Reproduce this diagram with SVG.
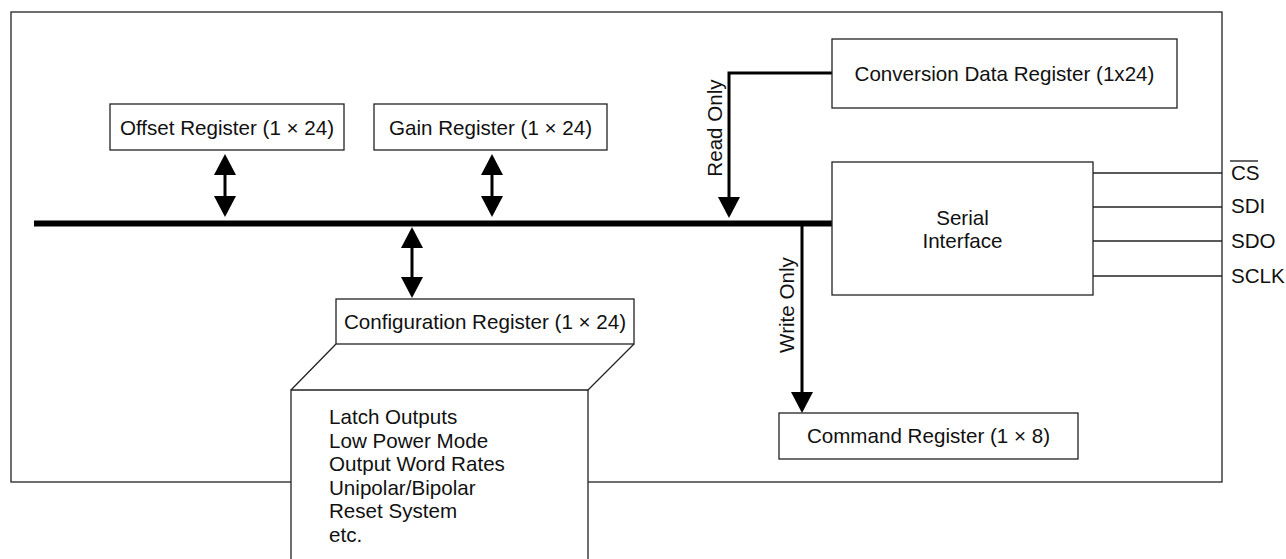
<svg xmlns="http://www.w3.org/2000/svg" width="1286" height="559" viewBox="0 0 1286 559">
<style>
.box{fill:#fff;stroke:#222;stroke-width:1.3}
.thin{fill:none;stroke:#222;stroke-width:1.3}
.conn{fill:none;stroke:#000;stroke-width:3}
.bus{fill:none;stroke:#000;stroke-width:6}
text{font-family:"Liberation Sans",Arial,Helvetica,sans-serif;font-size:20.6px;fill:#111}
.c{text-anchor:middle}
</style>
<defs>
<marker id="ah" viewBox="0 0 21 22" markerWidth="21" markerHeight="22" markerUnits="userSpaceOnUse" refX="17" refY="11" orient="auto-start-reverse">
<path d="M0,0 L21,11 L0,22 z" fill="#000"/>
</marker>
</defs>
<rect width="1286" height="559" fill="#fff"/>
<g id="chip">
<rect class="thin" x="11" y="12" width="1211" height="470"/>
</g>
<g id="connectors">
<line class="bus" x1="34" y1="223.5" x2="832" y2="223.5"/>
<line class="conn" x1="225" y1="158" x2="225" y2="213" marker-start="url(#ah)" marker-end="url(#ah)"/>
<line class="conn" x1="492" y1="158" x2="492" y2="213" marker-start="url(#ah)" marker-end="url(#ah)"/>
<line class="conn" x1="412" y1="231" x2="412" y2="294" marker-start="url(#ah)" marker-end="url(#ah)"/>
<path class="conn" d="M832,73 H729 V214" marker-end="url(#ah)"/>
<path class="conn" d="M802,224 V409" marker-end="url(#ah)"/>
<text transform="translate(722,128) rotate(-90)" class="c">Read Only</text>
<text transform="translate(793.5,305) rotate(-90)" class="c">Write Only</text>
<line class="thin" x1="1093" y1="173" x2="1222" y2="173"/>
<line class="thin" x1="1093" y1="207" x2="1222" y2="207"/>
<line class="thin" x1="1093" y1="241" x2="1222" y2="241"/>
<line class="thin" x1="1093" y1="276" x2="1222" y2="276"/>
</g>
<g id="offset">
<rect class="box" x="110" y="104" width="234" height="46"/>
<text x="227" y="135" class="c">Offset Register (1 × 24)</text>
</g>
<g id="gain">
<rect class="box" x="374" y="104" width="233" height="46"/>
<text x="490.5" y="135" class="c">Gain Register (1 × 24)</text>
</g>
<g id="conversion">
<rect class="box" x="832" y="39" width="345" height="69"/>
<text x="1004.5" y="81" class="c">Conversion Data Register (1x24)</text>
</g>
<g id="serial">
<rect class="box" x="832" y="162" width="261" height="133"/>
<text x="962.5" y="225" class="c">Serial</text>
<text x="962.5" y="248" class="c">Interface</text>
</g>
<g id="pins">
<text x="1231" y="180">CS</text>
<line x1="1230" y1="161" x2="1258" y2="161" stroke="#111" stroke-width="1.3"/>
<text x="1231" y="213">SDI</text>
<text x="1231" y="248">SDO</text>
<text x="1231" y="283">SCLK</text>
</g>
<g id="command">
<rect class="box" x="779" y="413" width="299" height="46"/>
<text x="928.5" y="443" class="c">Command Register (1 × 8)</text>
</g>
<g id="config">
<rect class="box" x="336" y="299" width="298" height="45"/>
<text x="485" y="329" class="c">Configuration Register (1 × 24)</text>
</g>
<g id="config-bits">
<path class="thin" d="M336,344 L291,390 M634,344 L588,390"/>
<path class="box" d="M291,562 V390 H588 V562"/>
<text x="329" y="424">Latch Outputs</text>
<text x="329" y="447.5">Low Power Mode</text>
<text x="329" y="471">Output Word Rates</text>
<text x="329" y="494.5">Unipolar/Bipolar</text>
<text x="329" y="518">Reset System</text>
<text x="329" y="541.5">etc.</text>
</g>
</svg>
